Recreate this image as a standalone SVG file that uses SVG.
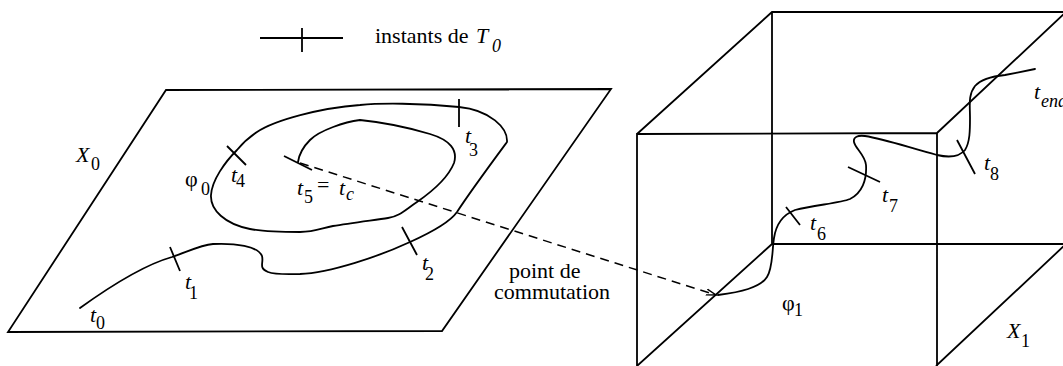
<svg xmlns="http://www.w3.org/2000/svg" width="1063" height="366" viewBox="0 0 1063 366">
<style>
.ln{fill:none;stroke:#000;stroke-width:1.8;stroke-linecap:butt;stroke-linejoin:miter}
.cv{fill:none;stroke:#000;stroke-width:1.8;stroke-linecap:round;stroke-linejoin:round}
.dash{fill:none;stroke:#000;stroke-width:1.5;stroke-dasharray:9 6}
text{font-family:"Liberation Serif","Times New Roman",serif;fill:#000}
.m{font-size:22px}
.s{font-size:18px}
.i{font-style:italic}
</style>
<defs>
<marker id="arr" markerUnits="userSpaceOnUse" markerWidth="14" markerHeight="10" refX="10" refY="5" orient="auto">
<path d="M0,2 L10,5 L0,8" fill="none" stroke="#000" stroke-width="1.4"/>
</marker>
</defs>
<rect width="1063" height="366" fill="#fff"/>

<g id="legend">
<path class="ln" d="M260,38 L343,38 M302,28 L302,52"/>
<text class="m" x="375" y="43">instants de</text>
<text class="m i" x="476" y="43">T</text>
<text class="s i" x="492" y="52">0</text>
</g>

<g id="plane-X0">
<path class="ln" d="M166,90 L611,89 L442,331 L8,332 Z"/>
<path class="cv" d="M80,308 C105,290 140,266 172,257 C185,253 200,245 213,244 C235,243 258,246 262,256 C264,263 258,268 268,272 C276,275 290,274 300,274 C330,273 380,256 410,242 C430,233 450,222 457,212 C470,192 490,165 507,142 C508,128 490,110 459,107 C420,103 380,103 360,105 C320,108 275,120 257,132 C248,138 242,144 237,150 C225,162 212,180 211,195 C210,210 225,224 250,229 C265,232 285,232 300,232 C315,232 322,228 333,226 C350,223 375,220 388,218 C400,216 405,210 417,202 C430,193 448,178 454,163 C458,150 450,140 430,134 C410,128 380,122 360,120 C345,122 320,130 310,140 C302,148 299,155 298,162"/>
<path class="ln" d="M170,247 L180,271 M402,227 L417,255 M459,99 L459,127 M227,146 L246,165 M284,156 L312,170"/>
<text class="m i" x="76" y="162">X</text><text class="s" x="91" y="170">0</text>
<text class="m" x="185" y="186">φ</text><text class="s" x="201" y="195">0</text>
<text class="m i" x="90" y="322">t</text><text class="s" x="96" y="329">0</text>
<text class="m i" x="185" y="289">t</text><text class="s" x="189" y="299">1</text>
<text class="m i" x="422" y="270">t</text><text class="s" x="425" y="280">2</text>
<text class="m i" x="465" y="143">t</text><text class="s" x="469" y="156">3</text>
<text class="m i" x="231" y="182">t</text><text class="s" x="236" y="187">4</text>
<text class="m i" x="297" y="195">t</text><text class="s" x="304" y="203">5</text>
<text class="m" x="317" y="192">=</text>
<text class="m i" x="339" y="195">t</text><text class="s i" x="346" y="200">c</text>
</g>

<g id="box-X1">
<path class="ln" d="M637,366 L637,134 L937,133 L937,366 M637,134 L772,12 L1066,12 L937,133 M772,12 L772,244 L1066,244 L936,366 M772,244 L637,366"/>
<path class="cv" d="M718,295 C740,292 760,288 767,277 C773,268 772,250 774,238 C776,225 782,215 795,210 C815,205 840,203 850,199 C862,193 867,180 866,165 C865,155 855,148 854,142 C853,137 858,135 865,136 C885,139 910,148 937,155 C950,158 960,156 965,150 C970,142 970,130 970,118 C970,105 968,95 975,86 C982,78 995,76 1005,75 C1015,73 1030,70 1035,69"/>
<path class="ln" d="M786,207 L800,225 M848,167 L880,182 M957,140 L975,174"/>
<text class="m" x="782" y="310">φ</text><text class="s" x="794" y="316">1</text>
<text class="m i" x="1007" y="338">X</text><text class="s" x="1021" y="347">1</text>
<text class="m i" x="810" y="230">t</text><text class="s" x="817" y="240">6</text>
<text class="m i" x="882" y="202">t</text><text class="s" x="889" y="212">7</text>
<text class="m i" x="984" y="170">t</text><text class="s" x="990" y="180">8</text>
<text class="m i" x="1034" y="99">t</text><text class="s i" x="1041" y="107">end</text>
</g>

<g id="connectors">
<path class="dash" d="M300,163 L716,295" marker-end="url(#arr)"/>
</g>

<g id="label-commutation">
<text class="m" x="509" y="278">point de</text>
<text class="m" x="494" y="299">commutation</text>
</g>
</svg>
